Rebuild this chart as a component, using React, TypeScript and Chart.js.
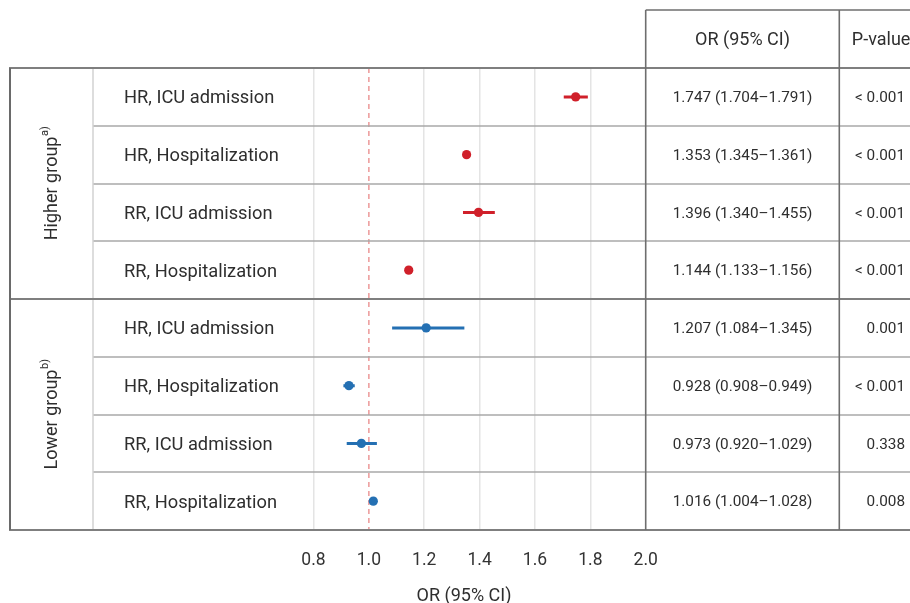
import { useEffect, useRef } from "react";
import { Chart, registerables } from "chart.js";

Chart.register(...registerables);

// ---------- data ----------
const groupNames = ["Higher group", "Lower group"];
const groupNotes = ["a)", "b)"];
const groupColors = ["#d0202a", "#2470b3"];
const rowGroup = [0, 0, 0, 0, 1, 1, 1, 1];
const rowLabels = [
  "HR, ICU admission",
  "HR, Hospitalization",
  "RR, ICU admission",
  "RR, Hospitalization",
  "HR, ICU admission",
  "HR, Hospitalization",
  "RR, ICU admission",
  "RR, Hospitalization",
];
const orValues = [1.747, 1.353, 1.396, 1.144, 1.207, 0.928, 0.973, 1.016];
const ciLower = [1.704, 1.345, 1.34, 1.133, 1.084, 0.908, 0.92, 1.004];
const ciUpper = [1.791, 1.361, 1.455, 1.156, 1.345, 0.949, 1.029, 1.028];
const pValues = ["< 0.001", "< 0.001", "< 0.001", "< 0.001", "0.001", "< 0.001", "0.338", "0.008"];
const xTicks = [0.8, 1.0, 1.2, 1.4, 1.6, 1.8, 2.0];
const referenceValue = 1.0;
const tableHeaders = ["OR (95% CI)", "P-value"];
const xTitle = "OR (95% CI)";

const FONT = "Roboto, 'Noto Sans', sans-serif";
const TEXT = "#2e2e2e";

function line(ctx: CanvasRenderingContext2D, x1: number, y1: number, x2: number, y2: number) {
  ctx.beginPath();
  ctx.moveTo(x1, y1);
  ctx.lineTo(x2, y2);
  ctx.stroke();
}

const tablePlugin = {
  id: "forestTable",
  afterDraw(chart: any) {
    const { ctx, chartArea, scales } = chart;
    const ys = scales.y;
    const xs = scales.x;
    const W = chart.width;
    const top = chartArea.top;
    const bottom = chartArea.bottom;
    const tableLeft = xs.getPixelForValue(xTicks[xTicks.length - 1]);
    const col2 = tableLeft + 193.6;
    const headerTop = 10;
    const outerLeft = 10;
    const labelCol = 93;
    const n = rowLabels.length;

    ctx.save();
    // row separators inside groups
    ctx.strokeStyle = "#a9a9a9";
    ctx.lineWidth = 1.5;
    for (let i = 1; i < n; i++) {
      if (rowGroup[i] !== rowGroup[i - 1]) continue;
      const py = Math.round(ys.getPixelForValue(i - 0.5));
      line(ctx, labelCol, py, W, py);
    }
    // label column divider
    ctx.strokeStyle = "#d2d2d2";
    line(ctx, labelCol, top, labelCol, bottom);

    // group boundaries
    ctx.strokeStyle = "#7f7f7f";
    ctx.lineWidth = 2;
    const bounds: number[] = [top];
    for (let i = 1; i < n; i++) {
      if (rowGroup[i] !== rowGroup[i - 1]) bounds.push(Math.round(ys.getPixelForValue(i - 0.5)));
    }
    bounds.push(bottom);
    bounds.forEach((py) => line(ctx, outerLeft - 1, py, W, py));
    ctx.strokeStyle = "#6a6a6a";
    line(ctx, outerLeft, top, outerLeft, bottom);
    // table verticals + header top
    ctx.strokeStyle = "#6e6e6e";
    ctx.lineWidth = 1.6;
    line(ctx, tableLeft, headerTop, tableLeft, bottom);
    line(ctx, col2, headerTop, col2, bottom);
    line(ctx, tableLeft, headerTop, W, headerTop);

    // headers
    ctx.fillStyle = TEXT;
    ctx.textBaseline = "middle";
    ctx.font = `18px ${FONT}`;
    const hy = (headerTop + top) / 2 + 1;
    ctx.textAlign = "center";
    ctx.fillText(tableHeaders[0], (tableLeft + col2) / 2, hy);
    ctx.textAlign = "left";
    ctx.fillText(tableHeaders[1], col2 + 12.5, hy);

    // row labels & table values
    for (let i = 0; i < n; i++) {
      const py = ys.getPixelForValue(i);
      ctx.font = `18.3px ${FONT}`;
      ctx.textAlign = "left";
      ctx.fillText(rowLabels[i], 124, py + 2);
      ctx.font = `15.3px ${FONT}`;
      ctx.textAlign = "center";
      const txt = `${orValues[i].toFixed(3)} (${ciLower[i].toFixed(3)}\u2013${ciUpper[i].toFixed(3)})`;
      ctx.fillText(txt, (tableLeft + col2) / 2, py + 1.5);
      ctx.textAlign = "right";
      ctx.fillText(pValues[i], 905, py + 1.5);
    }

    // group labels (rotated)
    for (let g = 0; g < groupNames.length; g++) {
      const idx = rowGroup.map((v, i) => (v === g ? i : -1)).filter((i) => i >= 0);
      const cy = (ys.getPixelForValue(idx[0] - 0.5) + ys.getPixelForValue(idx[idx.length - 1] + 0.5)) / 2;
      ctx.save();
      ctx.translate(52, cy);
      ctx.rotate(-Math.PI / 2);
      ctx.font = `18px ${FONT}`;
      const w1 = ctx.measureText(groupNames[g]).width;
      ctx.font = `11px ${FONT}`;
      const w2 = ctx.measureText(groupNotes[g]).width;
      const start = -(w1 + w2) / 2;
      ctx.textAlign = "left";
      ctx.textBaseline = "middle";
      ctx.font = `18px ${FONT}`;
      ctx.fillText(groupNames[g], start, 0);
      ctx.font = `11px ${FONT}`;
      ctx.fillText(groupNotes[g], start + w1 + 0.5, -7);
      ctx.restore();
    }

    // x-axis title
    ctx.font = `18px ${FONT}`;
    ctx.textAlign = "center";
    ctx.textBaseline = "middle";
    ctx.fillText(xTitle, 464, 596);
    ctx.restore();
  },
};

export default function App() {
  const ref = useRef<HTMLCanvasElement | null>(null);

  useEffect(() => {
    if (!ref.current) return;
    const datasets: any[] = [];
    // points
    for (let g = 0; g < groupNames.length; g++) {
      datasets.push({
        type: "scatter",
        label: groupNames[g],
        data: orValues
          .map((v, i) => ({ x: v, y: i, g: rowGroup[i] }))
          .filter((d) => d.g === g)
          .map((d) => ({ x: d.x, y: d.y })),
        backgroundColor: groupColors[g],
        borderWidth: 0,
        pointRadius: 4.6,
        order: 0,
      });
    }
    // CI lines
    for (let i = 0; i < orValues.length; i++) {
      datasets.push({
        type: "line",
        label: `ci${i}`,
        data: [
          { x: ciLower[i], y: i },
          { x: ciUpper[i], y: i },
        ],
        borderColor: groupColors[rowGroup[i]],
        borderWidth: 3,
        pointRadius: 0,
        fill: false,
        order: 1,
      });
    }
    // reference line
    datasets.push({
      type: "line",
      label: "ref",
      data: [
        { x: referenceValue, y: -0.5 },
        { x: referenceValue, y: rowLabels.length - 0.5 },
      ],
      borderColor: "rgba(220,70,70,0.6)",
      borderWidth: 1.4,
      borderDash: [5, 4],
      pointRadius: 0,
      fill: false,
      order: 2,
    });

    const chart = new Chart(ref.current, {
      type: "scatter",
      data: { datasets },
      plugins: [tablePlugin],
      options: {
        responsive: false,
        animation: false,
        devicePixelRatio: 1,
        layout: { padding: { left: 313.5, right: 264.3, top: 68, bottom: 0 } },
        plugins: { legend: { display: false }, tooltip: { enabled: false }, title: { display: false } },
        scales: {
          y: {
            type: "linear",
            min: -0.5,
            max: rowLabels.length - 0.5,
            reverse: true,
            display: false,
          },
          x: {
            type: "linear",
            min: xTicks[0],
            max: xTicks[xTicks.length - 1],
            afterBuildTicks: (scale: any) => {
              scale.ticks = xTicks.map((v) => ({ value: v }));
            },
            afterFit: (scale: any) => {
              scale.height = 73;
            },
            border: { display: false },
            grid: {
              drawTicks: false,
              lineWidth: 1.5,
              color: (c: any) => {
                const v = c.tick ? c.tick.value : 0;
                if (Math.abs(v - referenceValue) < 1e-6 || Math.abs(v - xTicks[xTicks.length - 1]) < 1e-6)
                  return "rgba(0,0,0,0)";
                return "#e4e4e4";
              },
            },
            ticks: {
              padding: 20,
              color: "#333",
              font: { family: FONT, size: 17.5 },
              maxRotation: 0,
              autoSkip: false,
              callback: (v: any) => Number(v).toFixed(1),
            },
          },
        },
      },
    } as any);
    return () => chart.destroy();
  }, []);

  return (
    <div style={{ position: "absolute", left: 0, top: 0, width: 910, height: 603, background: "#fff" }}>
      <canvas ref={ref} width={910} height={603} style={{ display: "block" }} />
    </div>
  );
}
